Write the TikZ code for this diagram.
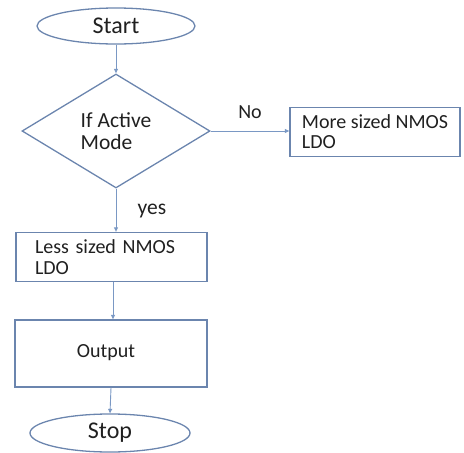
\documentclass[tikz,border=0pt]{standalone}
\usepackage{fontspec}
\setmainfont{Carlito}
\usetikzlibrary{shapes.geometric,arrows.meta}
\definecolor{outline}{HTML}{6B85AE}
\definecolor{link}{HTML}{7A98C4}
\definecolor{ink}{HTML}{202020}
\tikzset{
  shapeline/.style={draw=outline, line width=1.3pt, text=ink, inner sep=0pt},
  terminal/.style={shapeline, ellipse},
  decision/.style={shapeline, diamond},
  process/.style={shapeline, rectangle},
  flow/.style={draw=link, line width=0.9pt, -{Triangle[length=4.5pt,width=4pt]}},
  tag/.style={text=ink, font=\fontsize{20}{24}\selectfont, inner sep=0pt}
}
\begin{document}
\begin{tikzpicture}[x=1pt,y=-1pt]
  \useasboundingbox (0,0) rectangle (464,453);
  % terminals
  \node[terminal, minimum width=158pt, minimum height=36pt,
        font=\fontsize{24}{28}\selectfont] (start) at (116,26) {Start};
  \node[terminal, minimum width=160pt, minimum height=38pt,
        font=\fontsize{24}{28}\selectfont] (stop) at (110,433) {Stop};
  % decision
  \node[decision, minimum width=188pt, minimum height=114pt,
        font=\fontsize{21.5}{22}\selectfont, align=left] (dec) at (116,131)
        {If Active\\Mode};
  % processes
  \node[process, minimum width=170pt, minimum height=49pt,
        align=left, font=\fontsize{20}{20}\selectfont]
        (more) at (375,132) {More sized NMOS\\LDO};
  \node[process, minimum width=191pt, minimum height=49pt,
        text width=153pt, align=left, font=\fontsize{20}{21}\selectfont]
        (less) at (111.5,257) {Less sized NMOS\\LDO};
  \node[process, minimum width=192pt, minimum height=67pt,
        font=\fontsize{20}{24}\selectfont] (out) at (111,353.5)
        {\raisebox{5pt}{Output\hspace{10pt}}};
  % connectors
  \draw[flow] (start.south -| dec.north) -- (dec.north);
  \draw[flow] (dec.east) -- (more.west |- dec.east);
  \draw[flow] (dec.south) -- (less.north -| dec.south);
  \draw[flow] (less.south -| 113,0) -- (out.north -| 113,0);
  \draw[flow] (out.south) -- (stop.north);
  % branch labels
  \node[tag, font=\fontsize{21.5}{22}\selectfont] (yes) at (152,211) {yes};
  \node[tag] (no) at (250,112) {No};
\end{tikzpicture}
\end{document}
